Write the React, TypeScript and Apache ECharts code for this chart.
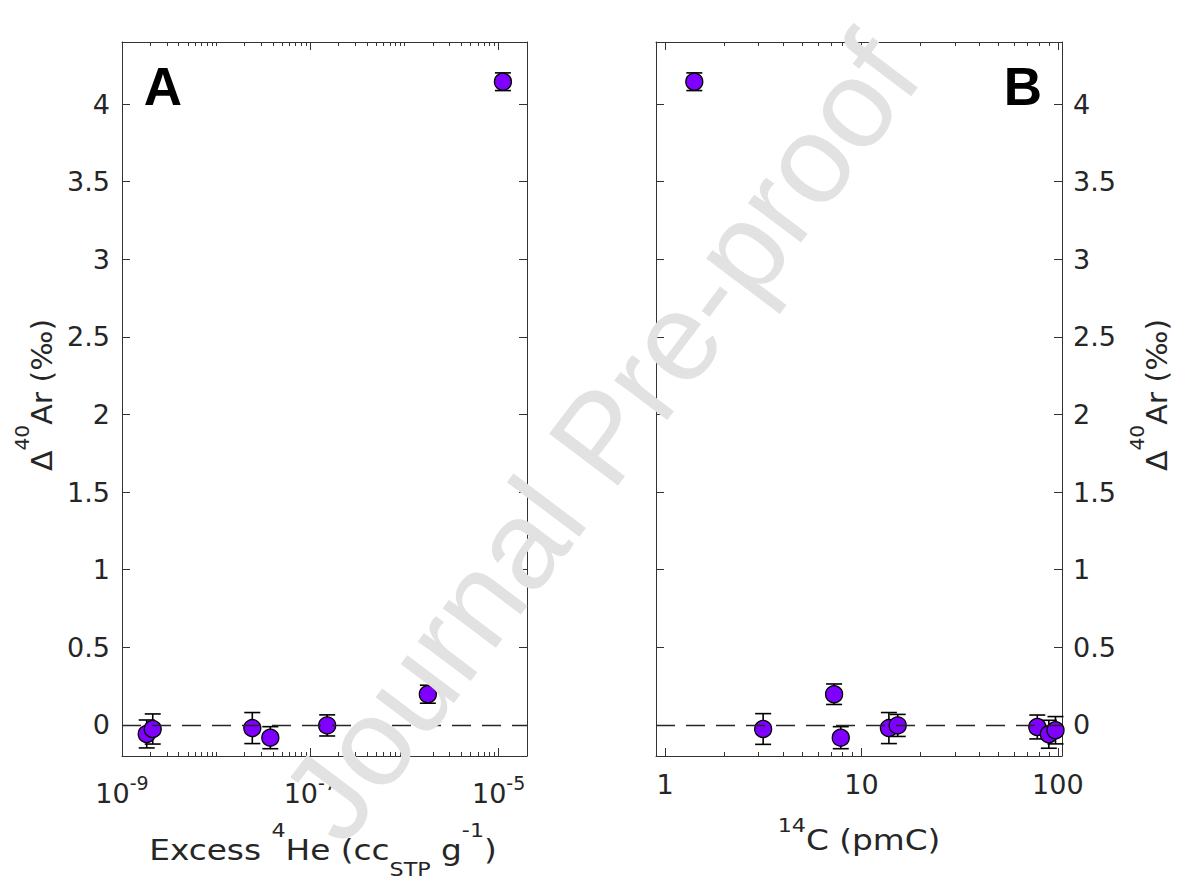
import React, { useEffect, useRef } from 'react';
import * as echarts from 'echarts';

// Panel A: excess 4He (ccSTP/g) vs Δ40Ar (‰)
const heX = [1.83e-9, 2.12e-9, 2.42e-8, 3.76e-8, 1.51e-7, 1.77e-6, 1.11e-5];
const heY = [-0.058, -0.026, -0.02, -0.082, -0.003, 0.198, 4.144];
const heErr = [0.09, 0.097, 0.1, 0.071, 0.068, 0.058, 0.057];

// Panel B: 14C (pmC) vs Δ40Ar (‰)
const cX = [1.41, 3.16, 7.26, 7.85, 13.8, 15.3, 78.6, 90, 97.3];
const cY = [4.144, -0.026, 0.198, -0.082, -0.02, -0.003, -0.013, -0.06, -0.034];
const cErr = [0.057, 0.099, 0.066, 0.071, 0.1, 0.071, 0.077, 0.09, 0.088];

// Axis ticks / labels
const yTicks = [0, 0.5, 1, 1.5, 2, 2.5, 3, 3.5, 4];
const heMajor = [1e-9, 1e-7, 1e-5];
const cMajor = [1, 10, 100];
const heRange = [1e-9, 2e-5];
const cRange = [0.9, 105];
const yRange = [-0.2, 4.4];

function minorTicks(fromExp: number, toExp: number, major: number[], lo: number, hi: number) {
  const out: number[] = [];
  for (let e = fromExp; e <= toExp; e++) {
    for (let m = 1; m <= 9; m++) {
      const v = parseFloat((m * Math.pow(10, e)).toPrecision(3));
      if (v >= lo && v <= hi && !major.some((t) => Math.abs(t - v) / t < 1e-6)) out.push(v);
    }
  }
  return out;
}
const heMinor = minorTicks(-9, -5, heMajor, heRange[0], heRange[1]);
const cMinor = minorTicks(0, 2, cMajor, cRange[0], cRange[1]);

const FONT = 'DejaVu Sans';
const TXT = '#262626';
const AXC = '#333333';
const PURPLE = '#7f00ff';

export default function App() {
  const ref = useRef<HTMLDivElement>(null);
  useEffect(() => {
    document.body.style.margin = '0';
    if (!ref.current) return;
    const chart = echarts.init(ref.current, undefined, { renderer: 'svg' });

    const gridA = { left: 122, top: 42, width: 405, height: 714, outerBoundsMode: 'none' };
    const gridB = { left: 656, top: 42, width: 406, height: 714, outerBoundsMode: 'none' };

    const axLine = { show: true, onZero: false, lineStyle: { color: AXC, width: 1 } };
    const noLine = { show: false, onZero: false };
    const majTick = (vals: number[]) => ({ show: true, inside: true, length: 8, customValues: vals, lineStyle: { color: AXC, width: 1 } });
    const minTick = (vals: number[]) => ({ show: true, inside: true, length: 4, customValues: vals, lineStyle: { color: AXC, width: 1 } });
    const noLabel = { show: false };
    const noSplit = { show: false };

    const logLabel = {
      show: true,
      customValues: heMajor,
      margin: 17,
      formatter: (v: number) => `{b|10}{s|${Math.round(Math.log10(v))}}`,
      rich: {
        b: { fontSize: 27, fontFamily: FONT, color: TXT, lineHeight: 40, verticalAlign: 'middle' },
        s: { fontSize: 19, fontFamily: FONT, color: TXT, lineHeight: 20, verticalAlign: 'top' },
      },
    };

    const xAxis: any[] = [
      // A main
      { gridIndex: 0, type: 'log', position: 'bottom', min: heRange[0], max: heRange[1], axisLine: axLine, axisTick: majTick(heMajor), axisLabel: logLabel, splitLine: noSplit },
      { gridIndex: 0, type: 'log', position: 'top', min: heRange[0], max: heRange[1], axisLine: axLine, axisTick: majTick(heMajor), axisLabel: noLabel, splitLine: noSplit },
      // A minor
      { gridIndex: 1, type: 'log', position: 'bottom', min: heRange[0], max: heRange[1], axisLine: noLine, axisTick: minTick(heMinor), axisLabel: noLabel, splitLine: noSplit },
      { gridIndex: 1, type: 'log', position: 'top', min: heRange[0], max: heRange[1], axisLine: noLine, axisTick: minTick(heMinor), axisLabel: noLabel, splitLine: noSplit },
      // B main
      {
        gridIndex: 2, type: 'log', position: 'bottom', min: cRange[0], max: cRange[1], axisLine: axLine, axisTick: majTick(cMajor),
        axisLabel: { show: true, customValues: cMajor, margin: 15, fontSize: 27, fontFamily: FONT, color: TXT, formatter: (v: number) => String(v) },
        splitLine: noSplit,
      },
      { gridIndex: 2, type: 'log', position: 'top', min: cRange[0], max: cRange[1], axisLine: axLine, axisTick: majTick(cMajor), axisLabel: noLabel, splitLine: noSplit },
      // B minor
      { gridIndex: 3, type: 'log', position: 'bottom', min: cRange[0], max: cRange[1], axisLine: noLine, axisTick: minTick(cMinor), axisLabel: noLabel, splitLine: noSplit },
      { gridIndex: 3, type: 'log', position: 'top', min: cRange[0], max: cRange[1], axisLine: noLine, axisTick: minTick(cMinor), axisLabel: noLabel, splitLine: noSplit },
    ];

    const yLabel = (margin: number) => ({ show: true, customValues: yTicks, margin, fontSize: 27, fontFamily: FONT, color: TXT, formatter: (v: number) => String(v) });

    const yAxis: any[] = [
      { gridIndex: 0, type: 'value', position: 'left', min: yRange[0], max: yRange[1], axisLine: axLine, axisTick: majTick(yTicks), axisLabel: yLabel(12), splitLine: noSplit },
      { gridIndex: 0, type: 'value', position: 'right', min: yRange[0], max: yRange[1], axisLine: axLine, axisTick: majTick(yTicks), axisLabel: noLabel, splitLine: noSplit },
      { gridIndex: 1, type: 'value', show: false, min: yRange[0], max: yRange[1], axisLine: noLine },
      { gridIndex: 2, type: 'value', position: 'left', min: yRange[0], max: yRange[1], axisLine: axLine, axisTick: majTick(yTicks), axisLabel: noLabel, splitLine: noSplit },
      { gridIndex: 2, type: 'value', position: 'right', min: yRange[0], max: yRange[1], axisLine: axLine, axisTick: majTick(yTicks), axisLabel: yLabel(11), splitLine: noSplit },
      { gridIndex: 3, type: 'value', show: false, min: yRange[0], max: yRange[1], axisLine: noLine },
    ];

    const errRender = (params: any, api: any) => {
      const x = api.value(0);
      const y = api.value(1);
      const e = api.value(2);
      const top = api.coord([x, y + e]);
      const bot = api.coord([x, y - e]);
      const hw = 8;
      const style = { stroke: '#000', lineWidth: 1.6, fill: 'none' };
      return {
        type: 'group',
        children: [
          { type: 'line', shape: { x1: top[0], y1: top[1], x2: bot[0], y2: bot[1] }, style },
          { type: 'line', shape: { x1: top[0] - hw, y1: top[1], x2: top[0] + hw, y2: top[1] }, style },
          { type: 'line', shape: { x1: bot[0] - hw, y1: bot[1], x2: bot[0] + hw, y2: bot[1] }, style },
        ],
      };
    };

    const zeroLine = {
      silent: true,
      symbol: ['none', 'none'],
      label: { show: false },
      lineStyle: { color: '#262626', width: 1.3, type: [19, 11] },
      emphasis: { disabled: true },
      data: [{ yAxis: 0 }],
      animation: false,
    };

    const heErrData = heX.map((x, i) => [x, heY[i], heErr[i]]);
    const cErrData = cX.map((x, i) => [x, cY[i], cErr[i]]);

    const scatterStyle = { color: PURPLE, borderColor: '#000', borderWidth: 1.3, opacity: 1 };

    const series: any[] = [
      { type: 'custom', xAxisIndex: 0, yAxisIndex: 0, renderItem: errRender, data: heErrData, encode: { x: 0, y: 1 }, markLine: zeroLine, z: 2 },
      { type: 'scatter', xAxisIndex: 0, yAxisIndex: 0, symbol: 'circle', symbolSize: 17, itemStyle: scatterStyle, data: heX.map((x, i) => [x, heY[i]]), z: 3 },
      { type: 'custom', xAxisIndex: 4, yAxisIndex: 3, renderItem: errRender, data: cErrData, encode: { x: 0, y: 1 }, markLine: zeroLine, z: 2 },
      { type: 'scatter', xAxisIndex: 4, yAxisIndex: 3, symbol: 'circle', symbolSize: 17, itemStyle: scatterStyle, data: cX.map((x, i) => [x, cY[i]]), z: 3 },
    ];

    const titleRich = (H: number) => ({
      n: { fontSize: 28, fontFamily: FONT, fill: TXT, lineHeight: H, verticalAlign: 'middle' },
      sup: { fontSize: 19, fontFamily: FONT, fill: TXT, lineHeight: 20, verticalAlign: 'top' },
      sub: { fontSize: 19, fontFamily: FONT, fill: TXT, lineHeight: 20, verticalAlign: 'bottom' },
    });

    const graphic: any[] = [
      { type: 'text', x: 163, y: 86, z: 50, style: { text: 'A', fontFamily: 'Liberation Sans', fontWeight: 'bold', fontSize: 53, fill: '#000', align: 'center', verticalAlign: 'middle' } },
      { type: 'text', x: 1023, y: 86, z: 50, style: { text: 'B', fontFamily: 'Liberation Sans', fontWeight: 'bold', fontSize: 53, fill: '#000', align: 'center', verticalAlign: 'middle' } },
      { type: 'text', x: 323, y: 850, scaleX: 1.17, z: 50, style: { text: '{n|Excess }{sup|4}{n|He (cc}{sub|STP}{n| g}{sup|-1}{n|)}', rich: titleRich(58), align: 'center', verticalAlign: 'middle' } },
      { type: 'text', x: 859, y: 840, scaleX: 1.17, z: 50, style: { text: '{sup|14}{n|C (pmC)}', rich: titleRich(48), align: 'center', verticalAlign: 'middle' } },
      { type: 'text', x: 42, y: 395, rotation: Math.PI / 2, scaleX: 1.07, z: 50, style: { text: '{n|Δ}{sup|40}{n|Ar (‰)}', rich: titleRich(58), align: 'center', verticalAlign: 'middle' } },
      { type: 'text', x: 1157, y: 395, rotation: Math.PI / 2, scaleX: 1.07, z: 50, style: { text: '{n|Δ}{sup|40}{n|Ar (‰)}', rich: titleRich(58), align: 'center', verticalAlign: 'middle' } },
      { type: 'text', x: 600, y: 437, rotation: (53 * Math.PI) / 180, z: 40, silent: true, style: { text: 'Journal Pre-proof', fontFamily: 'Liberation Sans', fontSize: 125, fill: '#e2e2e2', align: 'center', verticalAlign: 'middle' } },
    ];

    chart.setOption({
      animation: false,
      backgroundColor: '#ffffff',
      grid: [gridA, gridA, gridB, gridB],
      xAxis,
      yAxis,
      series,
      graphic,
    });
    return () => chart.dispose();
  }, []);
  return <div ref={ref} style={{ width: 1178, height: 880 }} />;
}
